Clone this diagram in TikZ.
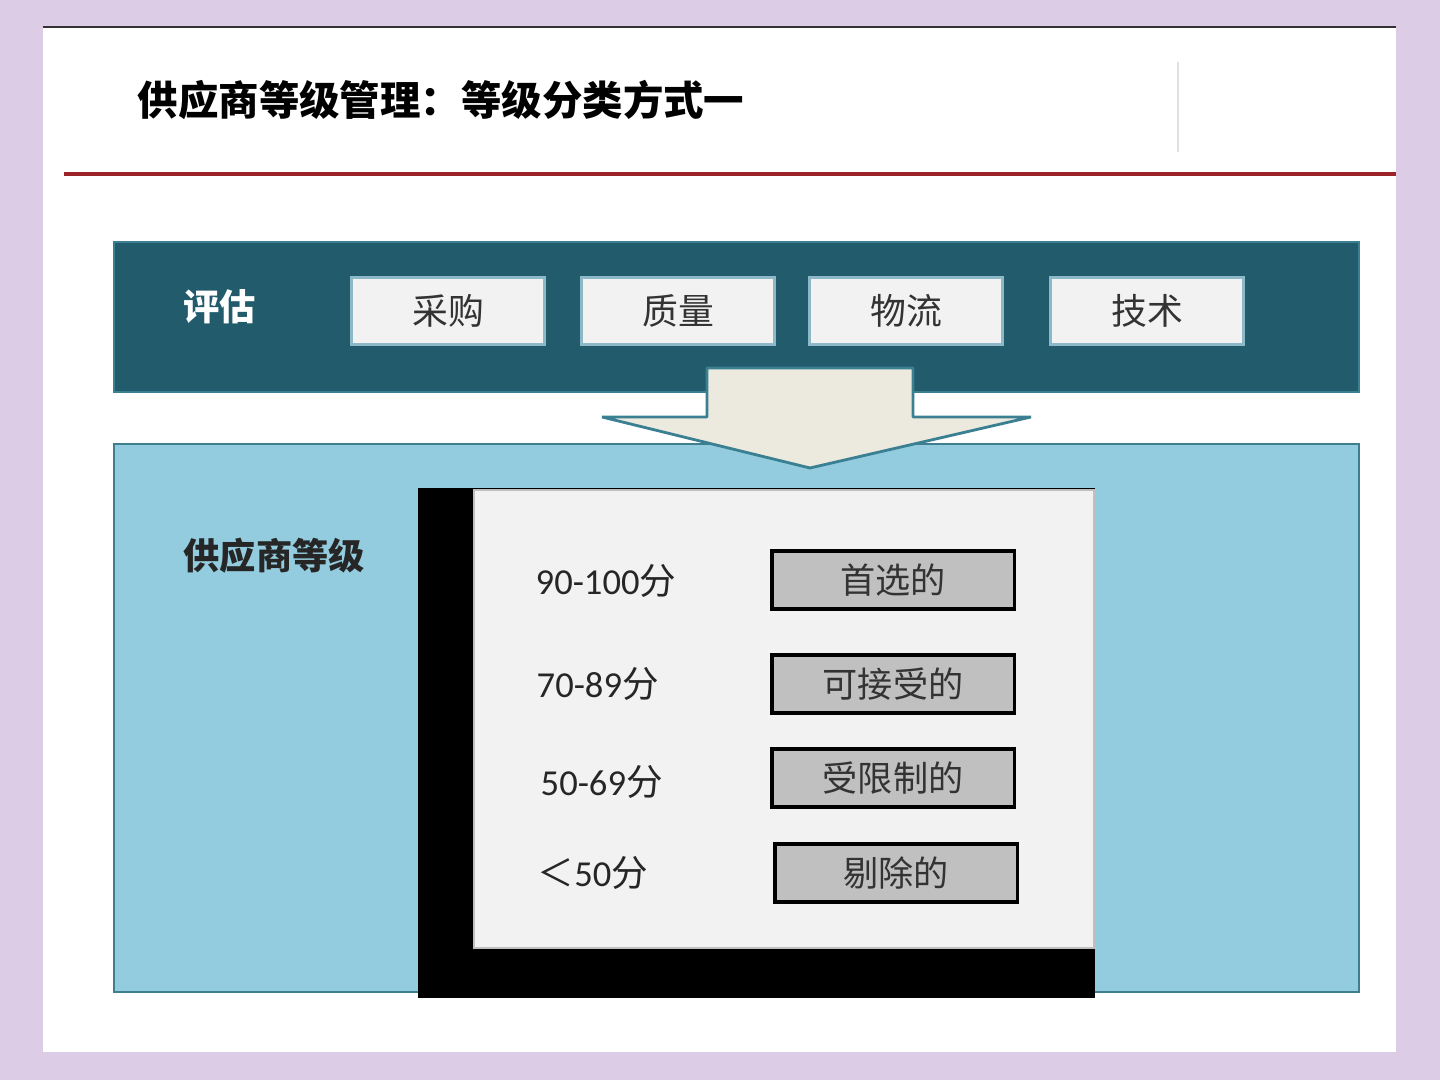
\documentclass[tikz,border=0pt]{standalone}
\usepackage{fontspec}
\setmainfont{Noto Sans CJK SC}
\newfontfamily\carlito{Carlito}
\definecolor{lavender}{HTML}{DCCCE6}
\definecolor{titlered}{HTML}{9C2428}
\definecolor{darkteal}{HTML}{225B6B}
\definecolor{tealline}{HTML}{3B8092}
\definecolor{skyblue}{HTML}{93CCDE}
\definecolor{skyline}{HTML}{3E7E8E}
\definecolor{arrowfill}{HTML}{ECEADF}
\definecolor{panelgray}{HTML}{F2F2F2}
\definecolor{critline}{HTML}{8DB8C7}
\definecolor{gradefill}{HTML}{C0C0C0}
\definecolor{inkgray}{HTML}{333333}

\begin{document}
\begin{tikzpicture}[x=0.01cm, y=-0.01cm,
    critbox/.style={draw=critline, fill=panelgray, line width=0.8pt,
      minimum width=1.93cm, minimum height=0.67cm, inner sep=0pt,
      text=inkgray, font=\fontsize{10.2}{12}\selectfont},
    gradebox/.style={draw=black, fill=gradefill, line width=0.9pt,
      minimum width=2.42cm, minimum height=0.58cm, inner sep=0pt,
      text=inkgray, font=\fontsize{10}{12}\selectfont},
    scoretxt/.style={anchor=west, inner sep=0pt, text=black!85,
      font=\fontsize{10.4}{12}\selectfont},
    headtxt/.style={anchor=west, inner sep=0pt,
      font=\fontsize{10.3}{12}\selectfont\bfseries}]
  \useasboundingbox (0,0) rectangle (1440,1080);
  \fill[lavender] (0,0) rectangle (1440,1080);
  \fill[white] (43,27) rectangle (1396,1052);
  \draw[black!80, line width=0.5pt] (43,27) -- (1396,27);

  % title
  \node[anchor=west, inner sep=0pt, font=\fontsize{11.5}{13}\selectfont\bfseries]
    (title) at (137,100) {供应商等级管理：等级分类方式一};
  \draw[black!12, line width=0.6pt] (1178,62) -- (1178,152);
  \draw[titlered, line width=1.2pt] (64,174) -- (1396,174);

  % assessment bar
  \draw[fill=darkteal, draw=tealline, line width=0.6pt] (114,242) rectangle (1359,392);
  \node[headtxt, text=white] (pinggu) at (183,307) {评估};
  \node[critbox] (caigou) at (448,311) {采购};
  \node[critbox] (zhiliang) at (678,311) {质量};
  \node[critbox] (wuliu) at (906,311) {物流};
  \node[critbox] (jishu) at (1147,311) {技术};

  % grade area
  \draw[fill=skyblue, draw=skyline, line width=0.8pt] (114,444) rectangle (1359,992);
  \node[headtxt, text=black!85] (dengji) at (183,556) {供应商等级};

  % down arrow
  \draw[fill=arrowfill, draw=tealline, line width=0.8pt, line join=bevel]
    (707,368) -- (913,368) -- (913,417) -- (1031,417) -- (810,468)
    -- (602,417) -- (707,417) -- cycle;

  % grade panel
  \fill[black] (418,488) rectangle (1095,998);
  \draw[fill=panelgray, draw=black!25, line width=0.4pt] (474,490) rectangle (1094,948);

  \node[scoretxt] (s90) at (535,581) {{\carlito 90-100}分};
  \node[scoretxt] (s70) at (536,684) {{\carlito 70-89}分};
  \node[scoretxt] (s50) at (540,782) {{\carlito 50-69}分};
  \node[scoretxt] (s0) at (537,873) {＜{\carlito 50}分};

  \node[gradebox] (shouxuan) at (893,580) {首选的};
  \node[gradebox] (kejieshou) at (893,684) {可接受的};
  \node[gradebox] (shouxian) at (893,778) {受限制的};
  \node[gradebox] (tichu) at (896,873) {剔除的};
\end{tikzpicture}
\end{document}
